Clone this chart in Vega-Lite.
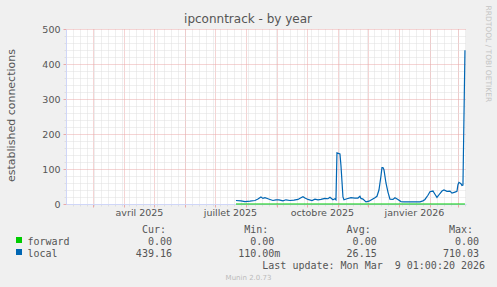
{
  "$schema": "https://vega.github.io/schema/vega-lite/v6.json",
  "width": 400,
  "height": 175,
  "autosize": {"type": "none"},
  "padding": {"left": 66, "top": 29, "right": 31, "bottom": 83},
  "background": "#f0f0f0",
  "title": {"text": "ipconntrack - by year", "font": "DejaVu Sans", "fontSize": 12, "fontWeight": "normal", "color": "#555555", "anchor": "middle", "dx": -18, "dy": 25},
  "config": {"font": "DejaVu Sans", "view": {"stroke": null, "fill": "white"}},
  "datasets": {
    "series": [
      {"date": "2025-07-22T00:00", "series": "forward", "value": 0},
      {"date": "2026-03-08T00:00", "series": "forward", "value": 0},
      {"date": "2025-07-22T00:00", "series": "local", "value": 10},
      {"date": "2025-07-27T00:00", "series": "local", "value": 9},
      {"date": "2025-07-31T00:00", "series": "local", "value": 7},
      {"date": "2025-08-05T00:00", "series": "local", "value": 8},
      {"date": "2025-08-10T00:00", "series": "local", "value": 10},
      {"date": "2025-08-13T00:00", "series": "local", "value": 14},
      {"date": "2025-08-16T00:00", "series": "local", "value": 20},
      {"date": "2025-08-18T00:00", "series": "local", "value": 16},
      {"date": "2025-08-20T00:00", "series": "local", "value": 18},
      {"date": "2025-08-23T00:00", "series": "local", "value": 15},
      {"date": "2025-08-25T00:00", "series": "local", "value": 13},
      {"date": "2025-08-28T00:00", "series": "local", "value": 10},
      {"date": "2025-08-31T00:00", "series": "local", "value": 12},
      {"date": "2025-09-03T00:00", "series": "local", "value": 12},
      {"date": "2025-09-07T00:00", "series": "local", "value": 9},
      {"date": "2025-09-10T00:00", "series": "local", "value": 12},
      {"date": "2025-09-14T00:00", "series": "local", "value": 10},
      {"date": "2025-09-18T00:00", "series": "local", "value": 11},
      {"date": "2025-09-22T00:00", "series": "local", "value": 13},
      {"date": "2025-09-25T00:00", "series": "local", "value": 18},
      {"date": "2025-09-27T00:00", "series": "local", "value": 21},
      {"date": "2025-09-29T00:00", "series": "local", "value": 17},
      {"date": "2025-10-02T00:00", "series": "local", "value": 13},
      {"date": "2025-10-06T00:00", "series": "local", "value": 10},
      {"date": "2025-10-09T00:00", "series": "local", "value": 14},
      {"date": "2025-10-12T00:00", "series": "local", "value": 12},
      {"date": "2025-10-15T00:00", "series": "local", "value": 13},
      {"date": "2025-10-19T00:00", "series": "local", "value": 16},
      {"date": "2025-10-22T00:00", "series": "local", "value": 15},
      {"date": "2025-10-24T00:00", "series": "local", "value": 19},
      {"date": "2025-10-27T00:00", "series": "local", "value": 12},
      {"date": "2025-10-29T00:00", "series": "local", "value": 15},
      {"date": "2025-10-30T00:00", "series": "local", "value": 12},
      {"date": "2025-10-31T00:00", "series": "local", "value": 146},
      {"date": "2025-11-03T00:00", "series": "local", "value": 143},
      {"date": "2025-11-04T00:00", "series": "local", "value": 110},
      {"date": "2025-11-06T00:00", "series": "local", "value": 20},
      {"date": "2025-11-07T00:00", "series": "local", "value": 12},
      {"date": "2025-11-10T00:00", "series": "local", "value": 15},
      {"date": "2025-11-14T00:00", "series": "local", "value": 18},
      {"date": "2025-11-18T00:00", "series": "local", "value": 17},
      {"date": "2025-11-21T00:00", "series": "local", "value": 17},
      {"date": "2025-11-23T00:00", "series": "local", "value": 22},
      {"date": "2025-11-24T00:00", "series": "local", "value": 16},
      {"date": "2025-11-26T00:00", "series": "local", "value": 14},
      {"date": "2025-11-29T00:00", "series": "local", "value": 6},
      {"date": "2025-12-02T00:00", "series": "local", "value": 8},
      {"date": "2025-12-05T00:00", "series": "local", "value": 13},
      {"date": "2025-12-08T00:00", "series": "local", "value": 18},
      {"date": "2025-12-10T00:00", "series": "local", "value": 22},
      {"date": "2025-12-12T00:00", "series": "local", "value": 40},
      {"date": "2025-12-14T00:00", "series": "local", "value": 80},
      {"date": "2025-12-15T00:00", "series": "local", "value": 104},
      {"date": "2025-12-16T00:00", "series": "local", "value": 104},
      {"date": "2025-12-17T00:00", "series": "local", "value": 98},
      {"date": "2025-12-19T00:00", "series": "local", "value": 60},
      {"date": "2025-12-21T00:00", "series": "local", "value": 34},
      {"date": "2025-12-23T00:00", "series": "local", "value": 14},
      {"date": "2025-12-26T00:00", "series": "local", "value": 13},
      {"date": "2025-12-28T00:00", "series": "local", "value": 18},
      {"date": "2025-12-31T00:00", "series": "local", "value": 13},
      {"date": "2026-01-03T00:00", "series": "local", "value": 7},
      {"date": "2026-01-06T00:00", "series": "local", "value": 6},
      {"date": "2026-01-12T00:00", "series": "local", "value": 6},
      {"date": "2026-01-18T00:00", "series": "local", "value": 6},
      {"date": "2026-01-22T00:00", "series": "local", "value": 6},
      {"date": "2026-01-25T00:00", "series": "local", "value": 9},
      {"date": "2026-01-27T00:00", "series": "local", "value": 13},
      {"date": "2026-01-30T00:00", "series": "local", "value": 25},
      {"date": "2026-02-01T00:00", "series": "local", "value": 35},
      {"date": "2026-02-04T00:00", "series": "local", "value": 37},
      {"date": "2026-02-06T00:00", "series": "local", "value": 28},
      {"date": "2026-02-08T00:00", "series": "local", "value": 19},
      {"date": "2026-02-11T00:00", "series": "local", "value": 30},
      {"date": "2026-02-13T00:00", "series": "local", "value": 37},
      {"date": "2026-02-15T00:00", "series": "local", "value": 40},
      {"date": "2026-02-18T00:00", "series": "local", "value": 36},
      {"date": "2026-02-21T00:00", "series": "local", "value": 37},
      {"date": "2026-02-23T00:00", "series": "local", "value": 31},
      {"date": "2026-02-26T00:00", "series": "local", "value": 34},
      {"date": "2026-02-28T00:00", "series": "local", "value": 36},
      {"date": "2026-03-01T00:00", "series": "local", "value": 55},
      {"date": "2026-03-02T00:00", "series": "local", "value": 62},
      {"date": "2026-03-04T00:00", "series": "local", "value": 58},
      {"date": "2026-03-05T00:00", "series": "local", "value": 53},
      {"date": "2026-03-06T00:00", "series": "local", "value": 54},
      {"date": "2026-03-08T00:00", "series": "local", "value": 439}
    ]
  },
  "resolve": {"axis": {"x": "independent", "y": "independent"}},
  "layer": [
    {
      "mark": {"type": "point", "shape": "triangle-right", "filled": true, "size": 30, "color": "#cfd6f8", "opacity": 1},
      "encoding": {
        "x": {
          "datum": {"year": 2026, "month": 3, "date": 13},
          "type": "temporal",
          "scale": {"domain": [{"year": 2025, "month": 2, "date": 2, "hours": 1}, {"year": 2026, "month": 3, "date": 9, "hours": 1}], "nice": false},
          "axis": {
            "orient": "bottom",
            "grid": true, "gridColor": "#dedede", "gridDash": [1, 1], "gridWidth": 1,
            "tickCount": {"interval": "week", "step": 1},
            "labels": false, "ticks": true, "tickSize": 2, "tickColor": "#dedede",
            "domain": false,
            "title": [
              "\u200b\u00a0\u00a0\u00a0\u00a0\u00a0\u00a0\u00a0\u00a0\u00a0\u00a0\u00a0\u00a0\u00a0\u00a0\u00a0\u00a0\u00a0\u00a0\u00a0Cur:\u00a0\u00a0\u00a0\u00a0\u00a0\u00a0\u00a0\u00a0\u00a0\u00a0\u00a0\u00a0\u00a0Min:\u00a0\u00a0\u00a0\u00a0\u00a0\u00a0\u00a0\u00a0\u00a0\u00a0\u00a0\u00a0\u00a0Avg:\u00a0\u00a0\u00a0\u00a0\u00a0\u00a0\u00a0\u00a0\u00a0\u00a0\u00a0\u00a0\u00a0Max:",
              "forward\u00a0\u00a0\u00a0\u00a0\u00a0\u00a0\u00a0\u00a0\u00a0\u00a0\u00a0\u00a0\u00a00.00\u00a0\u00a0\u00a0\u00a0\u00a0\u00a0\u00a0\u00a0\u00a0\u00a0\u00a0\u00a0\u00a00.00\u00a0\u00a0\u00a0\u00a0\u00a0\u00a0\u00a0\u00a0\u00a0\u00a0\u00a0\u00a0\u00a00.00\u00a0\u00a0\u00a0\u00a0\u00a0\u00a0\u00a0\u00a0\u00a0\u00a0\u00a0\u00a0\u00a00.00",
              "local\u00a0\u00a0\u00a0\u00a0\u00a0\u00a0\u00a0\u00a0\u00a0\u00a0\u00a0\u00a0\u00a0439.16\u00a0\u00a0\u00a0\u00a0\u00a0\u00a0\u00a0\u00a0\u00a0\u00a0\u00a0110.00m\u00a0\u00a0\u00a0\u00a0\u00a0\u00a0\u00a0\u00a0\u00a0\u00a0\u00a026.15\u00a0\u00a0\u00a0\u00a0\u00a0\u00a0\u00a0\u00a0\u00a0\u00a0\u00a0710.03",
              "\u200b\u00a0\u00a0\u00a0\u00a0\u00a0\u00a0\u00a0\u00a0\u00a0\u00a0\u00a0\u00a0\u00a0\u00a0\u00a0\u00a0\u00a0\u00a0\u00a0\u00a0\u00a0\u00a0\u00a0\u00a0\u00a0\u00a0\u00a0\u00a0\u00a0\u00a0\u00a0\u00a0\u00a0\u00a0\u00a0\u00a0\u00a0\u00a0\u00a0Last\u00a0update:\u00a0Mon\u00a0Mar\u00a0\u00a09\u00a001:00:20\u00a02026"
            ],
            "titleFont": "DejaVu Sans Mono", "titleFontSize": 10, "titleFontWeight": "normal", "titleColor": "#555555",
            "titleAlign": "left", "titleAnchor": "start", "titleBaseline": "alphabetic",
            "titleX": -39, "titleY": 28, "titleLineHeight": 12
          }
        },
        "y": {
          "datum": 0,
          "type": "quantitative",
          "scale": {"domain": [0, 500], "nice": false},
          "axis": {
            "orient": "left",
            "values": [20, 40, 60, 80, 120, 140, 160, 180, 220, 240, 260, 280, 320, 340, 360, 380, 420, 440, 460, 480],
            "grid": true, "gridColor": "#dedede", "gridDash": [1, 1], "gridWidth": 1,
            "labels": false, "ticks": true, "tickSize": 2, "tickColor": "#dedede",
            "domain": false, "title": null
          }
        }
      }
    },
    {
      "mark": {"type": "point", "shape": "triangle-up", "filled": true, "size": 30, "color": "#cfd6f8", "opacity": 1},
      "encoding": {
        "x": {
          "datum": {"year": 2025, "month": 2, "date": 2, "hours": 1},
          "type": "temporal",
          "scale": {"domain": [{"year": 2025, "month": 2, "date": 2, "hours": 1}, {"year": 2026, "month": 3, "date": 9, "hours": 1}], "nice": false},
          "axis": {
            "orient": "bottom",
            "values": [{"year": 2025, "month": 4, "date": 16}, {"year": 2025, "month": 7, "date": 16}, {"year": 2025, "month": 10, "date": 16}, {"year": 2026, "month": 1, "date": 16}],
            "labelExpr": "['janvier','février','mars','avril','mai','juin','juillet','août','septembre','octobre','novembre','décembre'][month(datum.value)] + ' ' + year(datum.value)",
            "labelFont": "DejaVu Sans", "labelFontSize": 9.5, "labelColor": "#555555", "labelPadding": 3,
            "ticks": false, "tickSize": 0, "grid": false, "domain": false,
            "title": "Munin 2.0.73", "titleFont": "DejaVu Sans", "titleFontSize": 7, "titleFontWeight": "normal", "titleColor": "#bbbbbb",
            "titleAlign": "center", "titleAnchor": null, "titleBaseline": "alphabetic", "titleX": 182, "titleY": 75
          }
        },
        "y": {
          "datum": 514,
          "type": "quantitative",
          "scale": {"domain": [0, 500], "nice": false},
          "axis": {
            "orient": "right",
            "labels": false, "ticks": false, "grid": false, "domain": false,
            "title": "RRDTOOL / TOBI OETIKER", "titleFont": "DejaVu Sans", "titleFontSize": 7.5, "titleFontWeight": "normal", "titleColor": "#c4c4c4",
            "titleAngle": 90, "titleAlign": "left", "titleBaseline": "middle", "titleX": 21, "titleY": -24
          }
        }
      }
    },
    {
      "data": {"name": "series"},
      "mark": {"type": "line", "strokeWidth": 1.2, "interpolate": "linear"},
      "encoding": {
        "x": {
          "field": "date", "type": "temporal",
          "scale": {"domain": [{"year": 2025, "month": 2, "date": 2, "hours": 1}, {"year": 2026, "month": 3, "date": 9, "hours": 1}], "nice": false},
          "axis": {
            "orient": "bottom",
            "grid": true, "gridColor": "#eaa9a9", "gridDash": [1, 1], "gridWidth": 1,
            "tickCount": {"interval": "month", "step": 1},
            "labels": false, "ticks": true, "tickSize": 3, "tickColor": "#eaa9a9",
            "domain": true, "domainColor": "#cfd6f8", "domainWidth": 1,
            "title": null
          }
        },
        "y": {
          "field": "value", "type": "quantitative",
          "scale": {"domain": [0, 500], "nice": false},
          "axis": {
            "orient": "left",
            "values": [0, 100, 200, 300, 400, 500],
            "grid": true, "gridColor": "#eaa9a9", "gridDash": [1, 1], "gridWidth": 1,
            "labelFont": "DejaVu Sans", "labelFontSize": 9.5, "labelColor": "#555555", "labelPadding": 3,
            "ticks": true, "tickSize": 3, "tickColor": "#eaa9a9",
            "domain": true, "domainColor": "#cfd6f8", "domainWidth": 1,
            "title": "established connections", "titleFont": "DejaVu Sans", "titleFontSize": 11, "titleFontWeight": "normal", "titleColor": "#555555",
            "titleAngle": -90, "titleAlign": "center", "titleBaseline": "middle", "titleX": -55, "titleY": 86
          }
        },
        "color": {
          "field": "series", "type": "nominal",
          "scale": {"domain": ["forward", "local"], "range": ["#00cc00", "#0066b3"]},
          "legend": {
            "orient": "none", "legendX": -52, "legendY": 206, "direction": "vertical",
            "symbolType": "square", "symbolSize": 36, "symbolStrokeWidth": 0,
            "labelExpr": "'\u00a0'", "labelFontSize": 10, "rowPadding": 2, "padding": 0, "offset": 0, "title": null,
            "encode": {"symbols": {"update": {"fill": {"scale": "color", "field": "value"}, "stroke": {"value": "transparent"}, "opacity": {"value": 1}}}}
          }
        }
      }
    }
  ]
}
